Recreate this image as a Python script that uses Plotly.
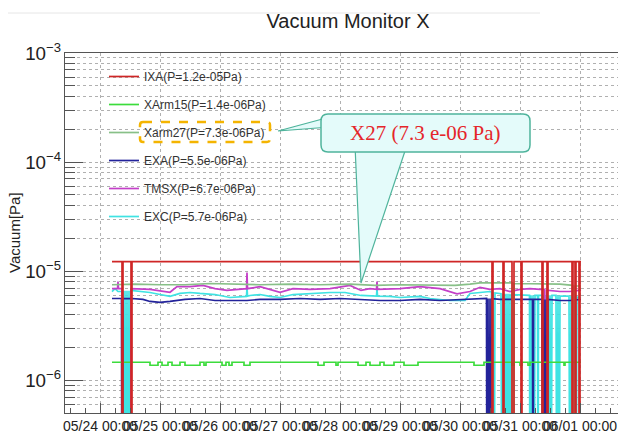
import pandas as pd
import plotly.graph_objects as go

# ---------------- data (hours since 05/24 00:00, pressure in Pa) ----------------
LO = 1e-8  # readings far below the axis (sensor dropouts)

IXA_H = [4.8, 8.8, 9.2, 12.4, 12.8, 156.8, 157.2, 161.2, 161.6, 164.8, 165.6, 168.4, 168.8,
         176.8, 177.2, 178.8, 179.2, 188.8, 189.2, 190.0, 190.4, 191.6, 192.0, 192.4]
IXA_V = [1.22e-5, LO, 1.22e-5, LO, 1.22e-5, LO, 1.22e-5, LO, 1.22e-5, LO, 1.22e-5, LO, 1.22e-5,
         LO, 1.22e-5, LO, 1.22e-5, LO, 1.22e-5, LO, 1.22e-5, LO, 1.22e-5, 1.22e-5]

XA15_H = [4.8, 20.0, 23.2, 24.8, 27.2, 28.8, 32.0, 34.0, 40.0, 41.6, 42.4, 48.8, 50.4, 51.6, 52.8,
          57.6, 60.0, 87.2, 89.6, 94.4, 95.2, 103.2, 106.4, 108.0, 112.0, 113.6, 117.6, 121.6, 127.2,
          149.6, 153.6, 164.8, 165.6, 168.0, 168.8, 171.2, 172.0, 185.6, 186.0, 192.4]
XA15_V = [1.46e-6, 1.37e-6, 1.46e-6, 1.37e-6, 1.46e-6, 1.37e-6, 1.46e-6, 1.37e-6, 1.46e-6, 1.37e-6,
          1.46e-6, 1.37e-6, 1.46e-6, 1.37e-6, 1.46e-6, 1.37e-6, 1.46e-6, 1.37e-6, 1.46e-6, 1.37e-6,
          1.46e-6, 1.37e-6, 1.46e-6, 1.37e-6, 1.46e-6, 1.37e-6, 1.46e-6, 1.37e-6, 1.46e-6, 1.37e-6,
          1.46e-6, 1.37e-6, 1.46e-6, 1.37e-6, 1.46e-6, 1.37e-6, 1.46e-6, 1.37e-6, 1.46e-6, 1.46e-6]

X27_H = [4.8, 14, 24, 34, 44, 54, 64, 76, 88, 100, 110, 120, 132, 142, 148, 152, 160,
         165.0, 165.0, 165.6, 165.6, 176, 184, 189.0, 189.0, 189.6, 189.6, 192.4]
X27_V = [7.5e-6, 7.6e-6, 7.5e-6, 7.5e-6, 7.7e-6, 7.6e-6, 7.5e-6, 7.6e-6, 7.5e-6, 7.6e-6,
         7.4e-6, 7.5e-6, 7.4e-6, 7.4e-6, 7.6e-6, 7.8e-6, 7.8e-6,
         7.8e-6, LO, LO, 7.7e-6, 7.7e-6, 7.6e-6, 7.4e-6, LO, LO, 7.3e-6, 7.3e-6]

EXA_H = [4.8, 8.6, 8.8, 9.2, 12.8, 17.2, 20, 24, 28, 34, 40, 46, 52, 58.8, 64, 72, 80, 88, 96,
         104.4, 112, 120, 128, 136, 144, 150.4, 154.6,
         154.8, 155.2, 155.6, 156.0, 156.4, 156.8, 160, 168, 172, 173.0, 173.2, 173.4,
         176.8, 177.2, 177.6, 178.0, 178.4, 178.8, 179.2, 184, 188, 192.4]
EXA_V = [5.61e-6, 5.61e-6, LO, 5.6e-6, 5.61e-6, 5.5e-6, 5.27e-6, 5.16e-6, 5.27e-6, 5.5e-6,
         5.61e-6, 5.38e-6, 5.38e-6, 5.38e-6, 5.5e-6, 5.5e-6, 5.61e-6, 5.5e-6, 5.61e-6,
         5.5e-6, 5.38e-6, 5.38e-6, 5.5e-6, 5.38e-6, 5.5e-6, 5.61e-6, 5.61e-6,
         LO, 5.6e-6, LO, 5.6e-6, LO, 5.6e-6, 5.5e-6, 5.5e-6, 5.5e-6, 5.5e-6, LO, 5.5e-6,
         5.5e-6, LO, 5.5e-6, LO, 5.5e-6, LO, 5.5e-6, 5.38e-6, 5.38e-6, 5.5e-6]

TMSX_H = [4.8, 7.0, 7.2, 7.4, 8.8, 8.8, 12.4, 12.4, 20, 24, 28, 30.8, 36, 41.2, 46, 50.8, 56,
          58.6, 58.8, 59.0, 64, 68, 72, 77.2, 84, 92, 96, 100, 104.4, 108, 110.6, 110.8, 111.0,
          116, 120, 128, 136, 142.8, 148, 152, 156, 160, 164, 168, 172, 176,
          177.8, 177.8, 178.6, 178.6, 180, 184, 188, 192.4]
TMSX_V = [6.9e-6, 6.9e-6, 8.0e-6, 6.9e-6, 6.9e-6, LO, LO, 6.9e-6, 6.8e-6, 6.65e-6, 6.4e-6,
          7.2e-6, 7.2e-6, 7.4e-6, 6.9e-6, 6.65e-6, 6.8e-6, 6.9e-6, 9.7e-6, 6.9e-6, 7.2e-6,
          6.8e-6, 6.4e-6, 6.9e-6, 6.8e-6, 6.9e-6, 7.1e-6, 7.4e-6, 6.65e-6, 6.9e-6, 6.8e-6,
          8.0e-6, 6.8e-6, 6.8e-6, 6.9e-6, 7.2e-6, 6.9e-6, 6.2e-6, 6.5e-6, 7.1e-6, 6.8e-6,
          6.9e-6, 6.5e-6, 6.8e-6, 6.9e-6, 6.8e-6, 6.8e-6, LO, LO, 6.7e-6, 6.65e-6, 6.5e-6,
          6.5e-6, 6.7e-6]

EXC_H = [4.8, 6.0, 7.2, 9.2, 9.6, 10.0, 10.4, 10.8, 11.2, 11.6, 12.0, 12.4,
         16, 20, 24, 28, 32, 36, 40, 46, 52, 56, 58.6, 58.8, 59.0, 60, 64, 68, 72, 77.2, 84, 92, 98,
         104.4, 110.6, 110.8, 111.0, 116, 120, 128, 132, 136, 140, 146, 148, 152, 156, 156.6,
         156.8, 157.2, 157.6, 158.0, 160.4,
         160.8, 161.2, 161.6, 162.0, 162.4, 162.8, 163.2, 163.6, 164.0, 164.4, 164.8, 165.2,
         170, 171.8, 172.0, 172.4, 172.8, 173.2, 173.6, 174.0, 175.0, 175.2, 175.4, 176.8,
         177.2, 177.6, 178.0, 178.4, 178.8, 179.2, 179.6, 180.0, 180.4, 180.8, 182.4,
         182.8, 183.2, 183.6, 184.0, 187.6,
         188.0, 188.4, 188.8, 189.2, 189.6, 190.0, 190.4, 190.8, 192.4]
EXC_V = [6.5e-6, 6.9e-6, 6.5e-6, 6.5e-6, LO, 6.6e-6, LO, 6.6e-6, LO, 6.6e-6, LO, 6.65e-6,
         6.5e-6, 6.37e-6, 6.1e-6, 5.86e-6, 6.24e-6, 6.37e-6, 6.24e-6, 6.1e-6, 5.73e-6, 5.86e-6,
         5.86e-6, 7.2e-6, 5.9e-6, 5.98e-6, 6.1e-6, 5.86e-6, 5.73e-6, 6.1e-6, 6.24e-6, 6.37e-6,
         6.37e-6, 5.98e-6, 5.9e-6, 6.93e-6, 5.9e-6, 5.86e-6, 5.73e-6, 5.86e-6, 5.61e-6, 5.5e-6,
         5.38e-6, 5.38e-6, 6.24e-6, 6.37e-6, 6.5e-6, 6.4e-6,
         LO, 6.4e-6, LO, 6.3e-6, 6.2e-6,
         LO, 6.2e-6, LO, 6.2e-6, LO, 6.2e-6, LO, 6.2e-6, LO, 6.2e-6, LO, 6.1e-6,
         6.0e-6, 6.0e-6, LO, 6.0e-6, LO, 6.0e-6, LO, 6.0e-6, 6.0e-6, LO, 6.0e-6, 6.0e-6,
         LO, 6.0e-6, LO, 6.0e-6, LO, 6.0e-6, LO, 6.0e-6, LO, 6.0e-6, 6.0e-6,
         LO, 6.0e-6, LO, 5.9e-6, 5.9e-6,
         LO, 5.9e-6, LO, 5.9e-6, LO, 5.9e-6, LO, 5.8e-6, 5.7e-6]

# name, hours, values, colour, line shape, legend rank  (drawn bottom -> top)
SERIES = [
    ("EXC(P=5.7e-06Pa)", EXC_H, EXC_V, "#3fe3e3", "linear", 6),
    ("TMSX(P=6.7e-06Pa)", TMSX_H, TMSX_V, "#c43fc8", "linear", 5),
    ("EXA(P=5.5e-06Pa)", EXA_H, EXA_V, "#23239a", "linear", 4),
    ("Xarm27(P=7.3e-06Pa)", X27_H, X27_V, "#88c088", "linear", 3),
    ("XArm15(P=1.4e-06Pa)", XA15_H, XA15_V, "#3cdc3c", "hv", 2),
    ("IXA(P=1.2e-05Pa)", IXA_H, IXA_V, "#cf2626", "hv", 1),
]

T0 = pd.Timestamp("2020-05-24 00:00")
def to_time(hours):
    return [T0 + pd.Timedelta(hours=h) for h in hours]

# ---------------- geometry (page has an 8px body margin) ----------------
OFF = 8
W, H = 626 - OFF, 431 - OFF
ML, MR, MT, MB = 65 - OFF, 0, 53 - OFF, 18
PW, PH = W - ML - MR, H - MT - MB
def px(x):          # page pixel -> paper x
    return (x - OFF - ML) / PW
def py(y):          # page pixel -> paper y
    return (H + OFF - MB - y) / PH

FONT = "Liberation Sans, Arial, sans-serif"
GRID = "#b0b0b0"

fig = go.Figure()
for name, hh, vv, col, shape, rank in SERIES:
    fig.add_trace(go.Scatter(x=to_time(hh), y=vv, mode="lines", name=name, legendrank=rank,
                             legendgroup=name, line=dict(color=col, width=1.7, shape=shape),
                             hoverinfo="skip"))

fig.update_layout(
    width=W, height=H,
    margin=dict(l=ML, r=MR, t=MT, b=MB),
    paper_bgcolor="white", plot_bgcolor="white",
    font=dict(family=FONT, color="#222222"),
    title=dict(text="Vacuum Monitor X", x=(348 - OFF) / W, xref="container", xanchor="center",
               y=1 - (21 - OFF) / H, yref="container", yanchor="middle",
               font=dict(size=20, family=FONT, color="#222222")),
    legend=dict(x=px(104), y=py(62), xanchor="left", yanchor="top",
                bgcolor="rgba(0,0,0,0)", borderwidth=0,
                traceorder="grouped", tracegroupgap=9,
                font=dict(size=12, family=FONT, color="#333333")),
    showlegend=True,
)

fig.update_xaxes(
    type="date",
    range=[T0 - pd.Timedelta(hours=14), T0 + pd.Timedelta(hours=210.4)],
    tick0=T0, dtick=86400000, tickformat="%m/%d %H:%M", tickangle=0,
    ticks="inside", ticklen=10, tickcolor="#555555",
    minor=dict(dtick=6 * 3600000, ticks="inside", ticklen=5, tickcolor="#555555", showgrid=False),
    showgrid=True, gridcolor=GRID, griddash="dot", gridwidth=1,
    showline=True, linecolor="#555555", linewidth=1, mirror=True,
    tickfont=dict(size=14, family=FONT, color="#222222"),
    automargin=False, zeroline=False,
)
fig.update_yaxes(
    type="log", range=[-6.301, -3], dtick=1, exponentformat="power",
    ticks="inside", ticklen=18, tickcolor="#555555",
    minor=dict(dtick="D1", ticks="inside", ticklen=10, tickcolor="#555555",
               showgrid=True, gridcolor=GRID, griddash="dot", gridwidth=1),
    showgrid=True, gridcolor=GRID, griddash="dot", gridwidth=1,
    showline=True, linecolor="#555555", linewidth=1, mirror=False,
    tickfont=dict(size=15, family=FONT, color="#222222"),
    automargin=False, zeroline=False,
)

# y-axis title
fig.add_annotation(text="Vacuum[Pa]", x=px(14), y=0.5, xref="paper", yref="paper",
                   textangle=-90, showarrow=False, xanchor="center", yanchor="middle",
                   font=dict(size=15, family=FONT, color="#222222"))

# faint screenshot border line at the top
fig.add_shape(type="line", xref="paper", yref="paper", x0=px(8), x1=px(540), y0=py(13), y1=py(13),
              line=dict(color="#e6e6e6", width=1))

def rounded(x0, y0, x1, y1, r):
    pts = [("M", x0 + r, y0), ("L", x1 - r, y0), ("Q", x1, y0, x1, y0 + r), ("L", x1, y1 - r),
           ("Q", x1, y1, x1 - r, y1), ("L", x0 + r, y1), ("Q", x0, y1, x0, y1 - r),
           ("L", x0, y0 + r), ("Q", x0, y0, x0 + r, y0)]
    out = []
    for p in pts:
        if p[0] == "Q":
            out.append(f"Q{px(p[1])},{py(p[2])} {px(p[3])},{py(p[4])}")
        else:
            out.append(f"{p[0]}{px(p[1])},{py(p[2])}")
    return " ".join(out) + " Z"

def poly(points):
    return "M" + " L".join(f"{px(a)},{py(b)}" for a, b in points) + " Z"

BUB_FILL = "#e4fbfa"
BUB_LINE = "#4fb49c"

# orange dashed box around Xarm27 legend entry
fig.add_shape(type="path", xref="paper", yref="paper", path=rounded(140, 122, 270, 142, 3),
              line=dict(color="#f4b400", width=2.5, dash="dash"), fillcolor="rgba(0,0,0,0)")
# callout tails
fig.add_shape(type="path", xref="paper", yref="paper",
              path=poly([(278, 131), (330, 117), (330, 127)]),
              line=dict(color=BUB_LINE, width=1.2), fillcolor=BUB_FILL)
fig.add_shape(type="path", xref="paper", yref="paper",
              path=poly([(355, 145), (407, 145), (361, 283)]),
              line=dict(color=BUB_LINE, width=1.2), fillcolor=BUB_FILL)
# callout bubble
fig.add_shape(type="path", xref="paper", yref="paper", path=rounded(321, 114, 530, 152, 7),
              line=dict(color=BUB_LINE, width=1.5), fillcolor=BUB_FILL)
fig.add_annotation(text="X27 (7.3 e-06 Pa)", x=px(425), y=py(133), xref="paper", yref="paper",
                   showarrow=False, xanchor="center", yanchor="middle",
                   font=dict(size=21, family="Liberation Serif, Times New Roman, serif",
                             color="#e5262a"))

fig.write_html("out.html")
